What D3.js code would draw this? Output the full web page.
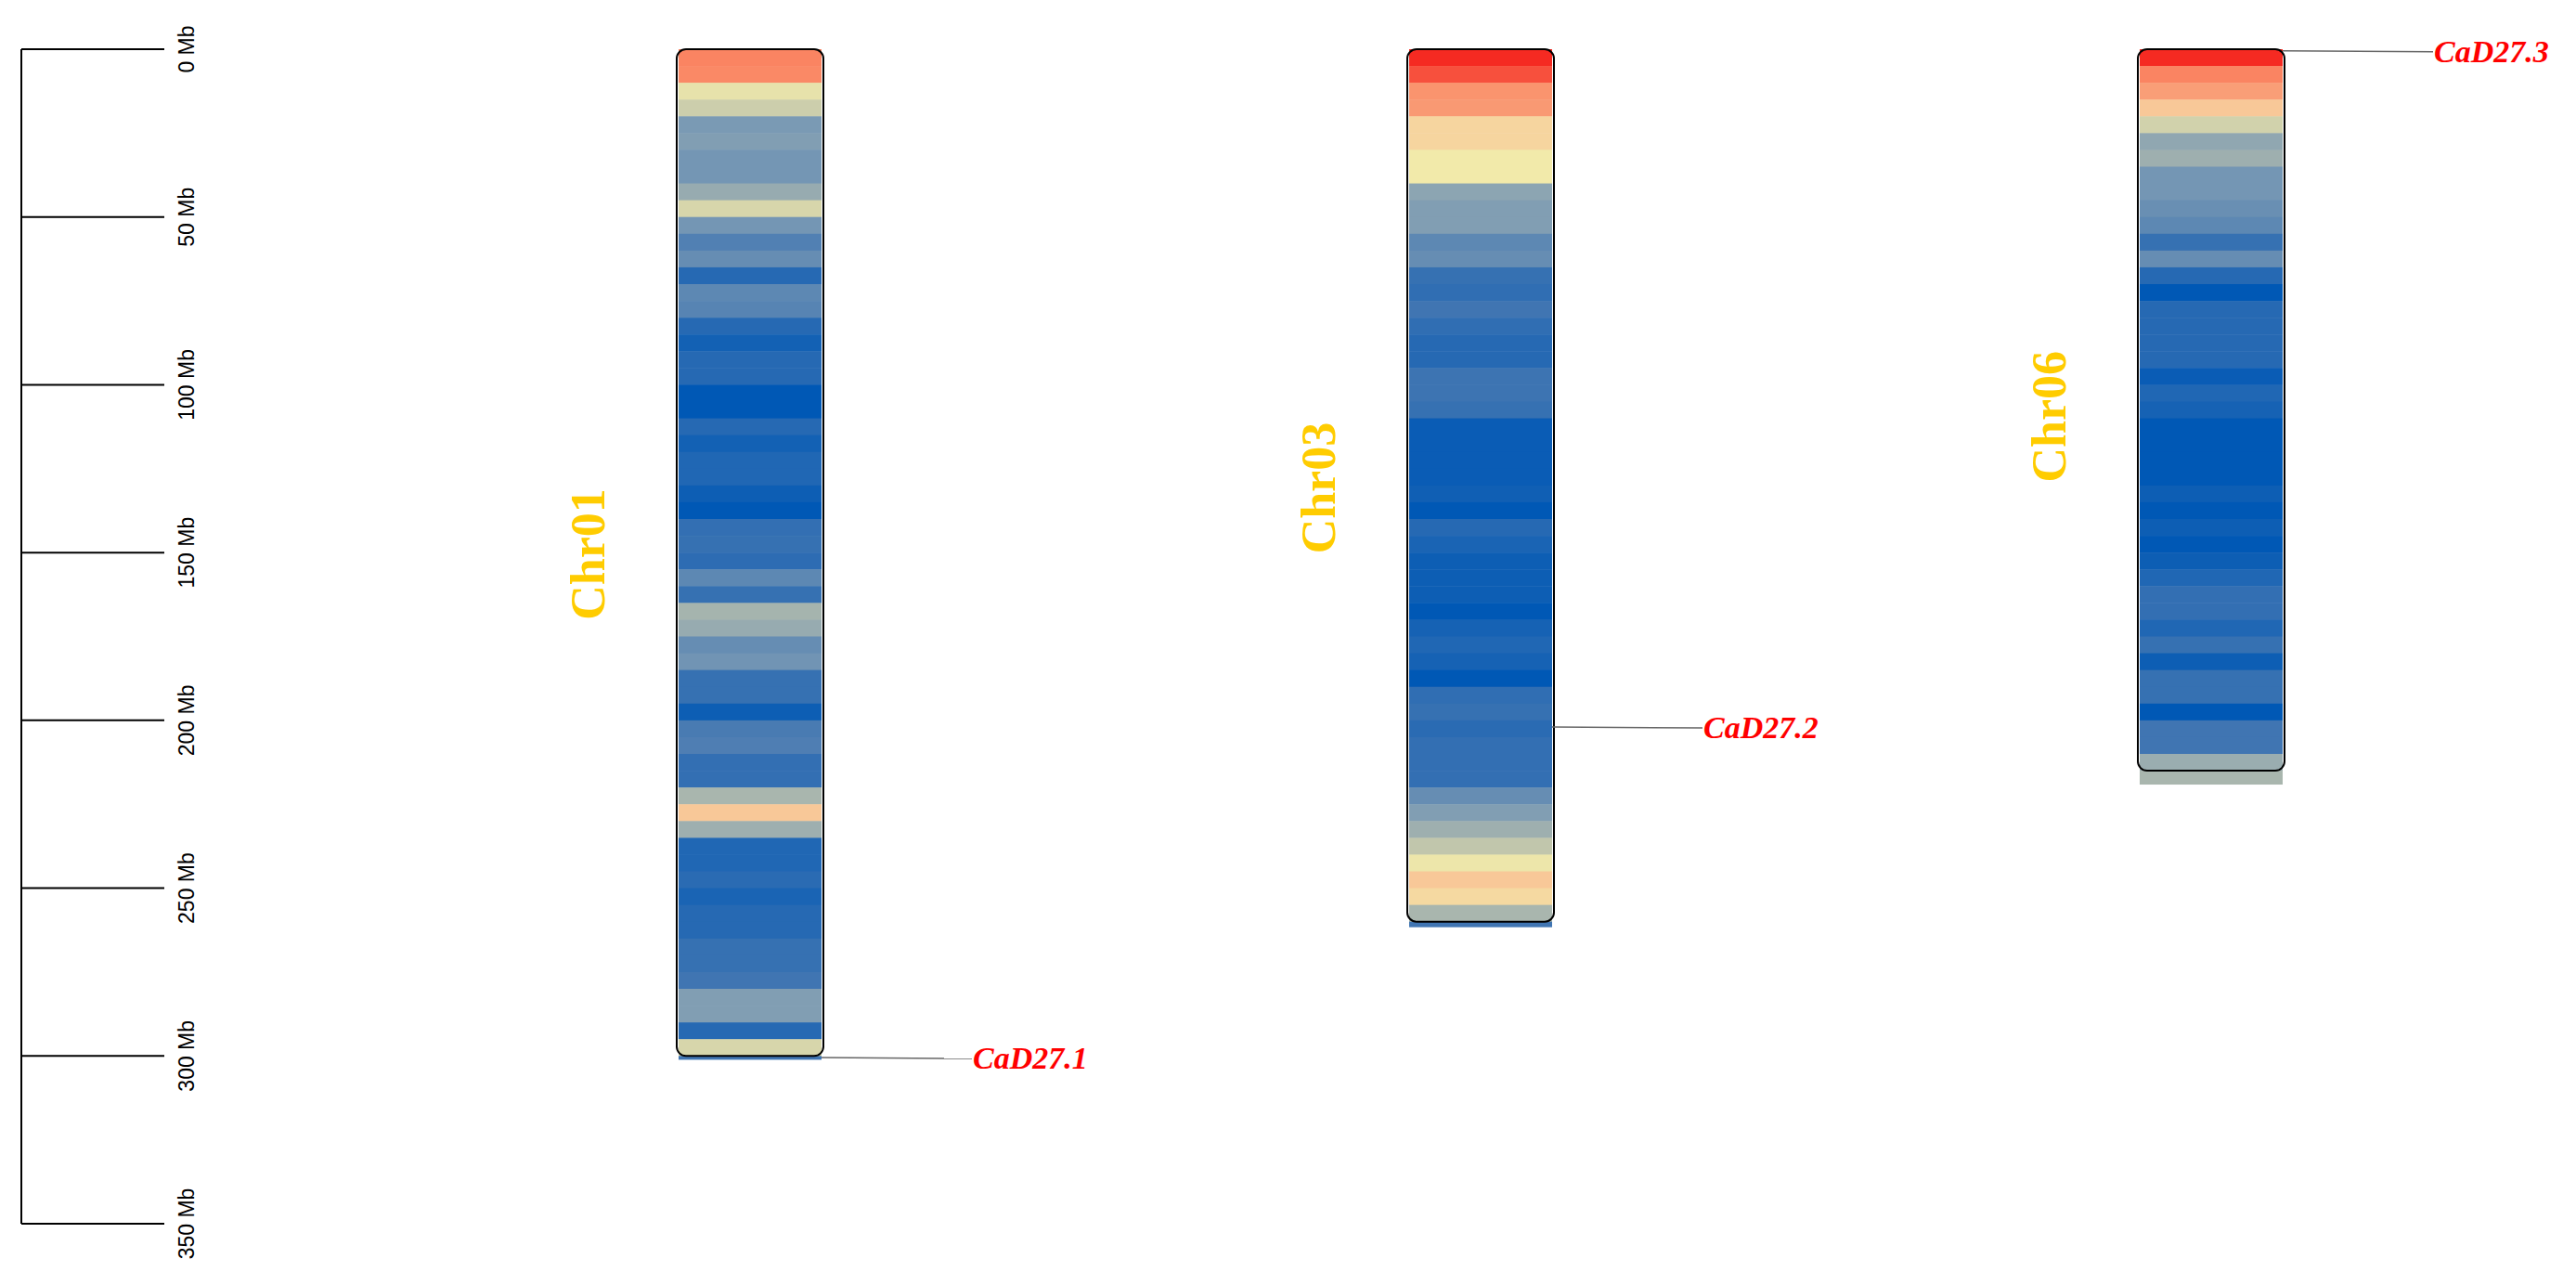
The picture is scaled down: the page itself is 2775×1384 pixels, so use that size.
<!DOCTYPE html>
<html><head><meta charset="utf-8">
<script src="https://cdn.jsdelivr.net/npm/d3@7"></script>
<style>body{margin:0;background:#fff}</style></head>
<body><svg id="c" width="2775" height="1384"></svg>
<script>
const chromosomes = ["Chr01","Chr03","Chr06"];
const lengths = [301, 261.5, 219];
const binSize = 5;
const chr01 = [0.12,0.13,0.35,0.4,0.6,0.58,0.62,0.62,0.52,0.38,0.62,0.74,0.67,0.88,0.7,0.72,0.88,0.94,0.88,0.88,1,1,0.88,0.94,0.9,0.9,0.96,1,0.84,0.83,0.86,0.7,0.83,0.48,0.52,0.67,0.63,0.83,0.83,0.96,0.77,0.75,0.84,0.84,0.47,0.25,0.5,0.9,0.9,0.87,0.92,0.88,0.88,0.83,0.83,0.8,0.58,0.58,0.88,0.38,0.8];
const chr03 = [0,0.05,0.15,0.16,0.28,0.28,0.33,0.33,0.55,0.58,0.58,0.7,0.67,0.83,0.85,0.8,0.85,0.88,0.88,0.81,0.81,0.83,0.97,0.97,0.97,0.97,0.95,1,0.88,0.92,0.96,0.96,0.96,1,0.93,0.9,0.93,1,0.85,0.83,0.87,0.84,0.84,0.84,0.67,0.58,0.5,0.42,0.34,0.25,0.29,0.47,0.8];
const chr06 = [0,0.12,0.17,0.25,0.39,0.54,0.5,0.62,0.62,0.66,0.7,0.83,0.67,0.88,1,0.88,0.88,0.88,0.88,0.97,0.9,0.93,1,1,1,1,0.96,1,0.96,1,0.96,0.9,0.84,0.84,0.9,0.83,0.96,0.83,0.83,1,0.8,0.8,0.51,0.47];
const densities = [chr01, chr03, chr06];
const genes = ["CaD27.1","CaD27.2","CaD27.3"];
const genePos = [300.5, 202, 0.5];
const tickValues = [0,50,100,150,200,250,300,350];

const svg = d3.select("#c");
const y = d3.scaleLinear().domain([0,350]).range([53,1318]);
const color = d3.scaleLinear()
  .domain([0,0.12,0.25,0.33,0.45,0.6,0.8,1])
  .range(["#F52A22","#FA8462","#F8C898","#F2EAAA","#B0BAAD","#7A9AB4","#4075B2","#0058B5"])
  .interpolate(d3.interpolateRgb);

const ax = svg.append("g").attr("transform","translate(23,0)");
ax.append("line").attr("x1",0).attr("x2",0).attr("y1",y(0)).attr("y2",y(350)).attr("stroke","#000").attr("stroke-width",2);
tickValues.forEach(t=>{
  ax.append("line").attr("x1",0).attr("x2",154).attr("y1",y(t)).attr("y2",y(t)).attr("stroke","#000").attr("stroke-width",2);
  ax.append("text").attr("transform",`translate(${186},${y(t)}) rotate(-90)`)
    .attr("text-anchor","middle").attr("font-family","Liberation Sans, Arial").attr("font-size",23)
    .text(t+" Mb");
});

const bw = 154;
chromosomes.forEach((c,i)=>{
  const x0 = 731 + i*787;
  const g = svg.append("g");
  densities[i].forEach((v,j)=>{
    const s=j*binSize, e=Math.min(s+binSize,lengths[i]);
    g.append("rect").attr("x",x0).attr("width",bw).attr("y",y(s)).attr("height",y(e)-y(s)+0.5).attr("fill",color(v));
  });
  const fullEnd = Math.floor(lengths[i]/binSize)*binSize;
  g.append("rect").attr("x",x0-2).attr("width",bw+4).attr("y",y(0)).attr("height",y(fullEnd)-y(0))
    .attr("rx",10).attr("fill","none").attr("stroke","#000").attr("stroke-width",2);
  g.append("text").attr("transform",`translate(${x0-80},${y(lengths[i]/2)}) rotate(-90)`)
    .attr("text-anchor","middle").attr("font-family","Liberation Serif, Times New Roman").attr("font-weight","bold")
    .attr("font-size",52).attr("fill","#FFCC00").text(c);
  const gy = y(genePos[i]);
  g.append("line").attr("x1",x0+bw).attr("x2",x0+bw+162).attr("y1",gy).attr("y2",gy+1).attr("stroke","#666").attr("stroke-width",1.5);
  g.append("text").attr("x",x0+bw+163).attr("y",gy+12).attr("font-family","Liberation Serif, Times New Roman")
    .attr("font-weight","bold").attr("font-style","italic").attr("font-size",34).attr("fill","#FF0000").text(genes[i]);
});
</script></body></html>
